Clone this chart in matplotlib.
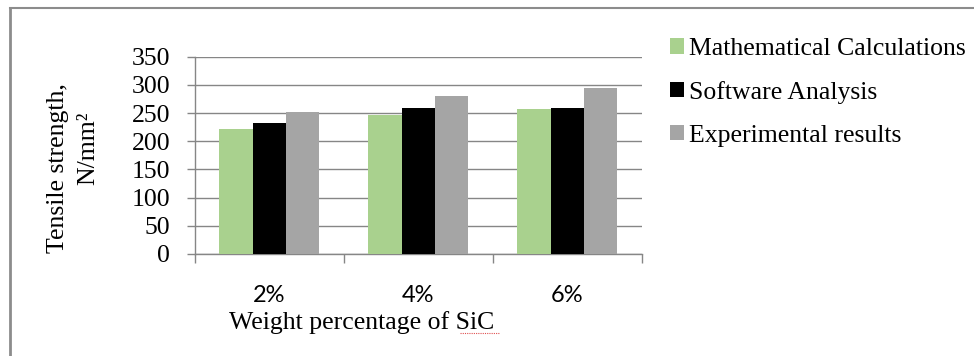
import matplotlib
matplotlib.use('Agg')
import matplotlib.pyplot as plt
import numpy as np
from matplotlib.patches import Patch
from matplotlib.lines import Line2D

categories = ['2%', '4%', '6%']
mathematical = [221, 247, 257]
software = [232, 259, 260]
experimental = [252, 281, 295]
series_names = ['Mathematical Calculations', 'Software Analysis', 'Experimental results']
series_colors = ['#A9D18E', '#000000', '#A5A5A5']
yticks = [0, 50, 100, 150, 200, 250, 300, 350]

W, H = 974, 356
SERIF = 'Liberation Serif'
GRID = '#868686'

fig = plt.figure(figsize=(W / 100, H / 100), dpi=100)
fig.patch.set_facecolor('white')

# axes placed in pixel terms
x0, x1, y_top, y_zero = 195, 641.7, 56.8, 254
ax = fig.add_axes([x0 / W, 1 - y_zero / H, (x1 - x0) / W, (y_zero - y_top) / H])

x = np.arange(len(categories))
bw = 0.224
for i, (vals, col) in enumerate(zip([mathematical, software, experimental], series_colors)):
    ax.bar(x + (i - 1) * bw, vals, width=bw, color=col, zorder=3, linewidth=0)

ax.set_xlim(-0.5, 2.5)
ax.set_ylim(0, 350)
ax.set_yticks(yticks)
ax.set_yticklabels([str(v) for v in yticks], fontsize=18.5, fontfamily=SERIF)
ax.yaxis.grid(True, color=GRID, linewidth=1.0, zorder=0)
ax.tick_params(axis='y', length=5.8, width=1.0, color=GRID, pad=12)

ax.set_xticks(x)
ax.set_xticklabels(categories, fontsize=17, fontfamily='Lato')
ax.set_xticks([-0.5, 0.5, 1.5, 2.5], minor=True)
ax.tick_params(axis='x', which='major', length=0, pad=22)
ax.tick_params(axis='x', which='minor', length=6.5, width=1.0, color=GRID)

for s in ['top', 'right']:
    ax.spines[s].set_visible(False)
for s in ['left', 'bottom']:
    ax.spines[s].set_color(GRID)
    ax.spines[s].set_linewidth(1.0)

# axis titles
fig.text(58 / W, 1 - 168 / H, 'Tensile strength,', rotation=90, ha='center', va='center',
         fontsize=18.5, fontfamily=SERIF)
fig.text(88 / W, 1 - 148 / H, 'N/mm\u00b2', rotation=90, ha='center', va='center',
         fontsize=18.5, fontfamily=SERIF)
fig.text(361.5 / W, 1 - 323 / H, 'Weight percentage of SiC', ha='center', va='center',
         fontsize=18.5, fontfamily=SERIF)
# red spell-check squiggle under "SiC"
fig.add_artist(Line2D([460 / W, 499 / W], [1 - 333 / H, 1 - 333 / H], color='#E05050',
                      linewidth=0.8, linestyle=(0, (1, 1)), transform=fig.transFigure))

# legend
handles = [Patch(facecolor=c, edgecolor='none') for c in series_colors]
fig.legend(handles, series_names, loc='upper left', bbox_to_anchor=(670 / W, 1 - 38 / H),
           frameon=False, prop={'family': SERIF, 'size': 18.5}, handlelength=0.55,
           handleheight=0.55, handletextpad=0.2, labelspacing=0.81, borderpad=0,
           borderaxespad=0)

# outer chart frame (top and left edges)
fig.add_artist(Line2D([10 / W, 1], [1 - 8 / H, 1 - 8 / H], color='#8C8C8C', linewidth=1.5,
                      transform=fig.transFigure))
fig.add_artist(Line2D([10 / W, 10 / W], [0, 1 - 8 / H], color='#8C8C8C', linewidth=2,
                      transform=fig.transFigure))

fig.savefig('out.png', dpi=100)
